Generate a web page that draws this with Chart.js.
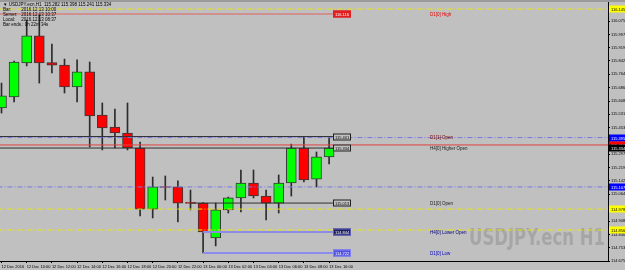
<!DOCTYPE html>
<html>
<head>
<meta charset="utf-8">
<script src="https://cdn.jsdelivr.net/npm/chart.js@4.4.0/dist/chart.umd.min.js"></script>
<style>
html, body { margin: 0; padding: 0; background: #c0c0c0; overflow: hidden; }
canvas { display: block; }
</style>
</head>
<body>
<canvas id="mycanvas" width="625" height="270"></canvas>
<script>
// hourly candles, 12 Dec 08:00 .. 13 Dec 10:00
var opens  = [115.568, 115.632, 115.831, 115.988, 115.833, 115.818, 115.690, 115.778, 115.527, 115.457,
              115.422, 115.334, 114.978, 115.107, 115.107, 115.013, 115.013, 114.809, 114.973, 115.043,
              115.130, 115.054, 115.013, 115.130, 115.334, 115.153, 115.282];
var highs  = [115.713, 115.842, 116.081, 116.116, 115.941, 115.853, 115.848, 115.836, 115.597, 115.562,
              115.597, 115.369, 115.165, 115.171, 115.142, 115.089, 115.016, 115.013, 115.048, 115.206,
              115.206, 115.089, 115.177, 115.357, 115.398, 115.311, 115.398];
var lows   = [115.538, 115.603, 115.813, 115.713, 115.772, 115.655, 115.603, 115.340, 115.323, 115.334,
              115.323, 114.938, 114.926, 115.031, 114.903, 114.973, 114.722, 114.763, 114.955, 114.961,
              115.043, 114.914, 114.955, 115.054, 115.136, 115.107, 115.241];
var closes = [115.638, 115.836, 115.988, 115.830, 115.818, 115.690, 115.778, 115.521, 115.451, 115.422,
              115.334, 114.978, 115.107, 115.104, 115.013, 115.011, 114.844, 114.973, 115.043, 115.130,
              115.054, 115.013, 115.130, 115.334, 115.148, 115.282, 115.334];

var xTickIdx    = [0, 2, 4, 6, 8, 10, 12, 14, 16, 18, 20, 22, 24, 26];
var xTickLabels = ['12 Dec 2016', '12 Dec 10:00', '12 Dec 12:00', '12 Dec 14:00', '12 Dec 16:00',
                   '12 Dec 18:00', '12 Dec 20:00', '12 Dec 22:00', '13 Dec 00:00', '13 Dec 02:00',
                   '13 Dec 04:00', '13 Dec 06:00', '13 Dec 08:00', '13 Dec 10:00'];
var yTickLabels = ['116.075', '115.997', '115.919', '115.842', '115.764', '115.686', '115.608',
                   '115.531', '115.453', '115.375', '115.297', '115.219', '115.142', '115.064',
                   '114.986', '114.908', '114.830', '114.753', '114.675'];

// horizontal levels
var levelPrices = [116.145, 116.116, 115.401, 115.395, 115.352, 115.334, 115.107, 115.013, 114.978, 114.856, 114.844, 114.722];
var levelTexts  = ['', 'D1[0] High', 'D1[1] Open', '', '', 'H4[0] Higher Open', '', 'D1[0] Open', '', '', 'H4[0] Lower Open', 'D1[0] Low'];
var levelFrom   = [null, null, null, null, null, null, null, 15, null, null, 16, 16];

var legendLines = ['\u25BC USDJPY.ecn,H1  115.282 115.398 115.241 115.334',
                   'Bar:        2016.12.13 10:00',
                   'Server:   2016.12.13 10:37',
                   'Local:     2016.12.13 08:37',
                   'Bar ends.: 0h 22m 34s'];

// style for each level: line, box at end of line, text, marker on price axis
var levelStyle = [
  {line: '#e8e800', dash: [5, 2, 1, 2], w: 1, axis: ['#ffff00', '#000']},
  {line: '#e06060', w: 1, box: ['#e02020', '#e02020', '#fff'], text: '#e00000'},
  {line: '#303030', w: 1, box: ['#c0c0c0', '#202020', '#000'], text: '#700000'},
  {line: '#7878e8', dash: [5, 2, 1, 2], w: 1, axis: ['#0000ff', '#fff']},
  {line: '#e04040', w: 1, axis: ['#ff0000', '#fff']},
  {line: '#303030', w: 1, box: ['#c0c0c0', '#202020', '#000'], text: '#202020', axis: ['#000', '#fff']},
  {line: '#7878e8', dash: [5, 2, 1, 2], w: 1, axis: ['#0000ff', '#fff']},
  {line: '#303030', w: 1, box: ['#c0c0c0', '#202020', '#000'], text: '#202020'},
  {line: '#e8e800', dash: [5, 2, 1, 2], w: 1, axis: ['#ffff00', '#000']},
  {line: '#e8e800', dash: [5, 2, 1, 2], w: 1, axis: ['#ffff00', '#000']},
  {line: '#8c8ce6', w: 2, box: ['#202060', '#6060c0', '#fff'], text: '#000080'},
  {line: '#8c8cf0', w: 2, box: ['#5050d8', '#8080ff', '#fff'], text: '#0000c0'}
];

var lineEnd = 26.3;
var textAt = 34;
var xMin = -0.119, xMax = 48.135;

var bodyColors = opens.map(function(o, i) { return closes[i] >= o ? '#00ff00' : '#ff0000'; });

var datasets = [];
levelPrices.forEach(function(p, i) {
  var st = levelStyle[i];
  var from = levelFrom[i] === null ? xMin - 1 : levelFrom[i];
  var to = levelTexts[i] ? lineEnd : xMax + 1;
  datasets.push({
    type: 'line',
    data: [{x: from, y: p}, {x: to, y: p}],
    borderColor: st.line,
    borderWidth: st.w,
    borderDash: st.dash || [],
    pointRadius: 0,
    order: 0
  });
});
datasets.push({
  type: 'bar',
  data: opens.map(function(o, i) { return {x: i, y: [o, closes[i]]}; }),
  backgroundColor: bodyColors,
  borderColor: '#383838',
  borderWidth: 1,
  borderSkipped: false,
  barThickness: 10,
  minBarLength: 1,
  grouped: false,
  order: 1
});
datasets.push({
  type: 'bar',
  data: lows.map(function(l, i) { return {x: i, y: [l, highs[i]]}; }),
  backgroundColor: '#2c2c2c',
  borderWidth: 0,
  barThickness: 1,
  grouped: false,
  order: 2
});

var mtPlugin = {
  id: 'mt',
  beforeDraw: function(chart) {
    var c = chart.ctx;
    c.save();
    c.fillStyle = '#c0c0c0';
    c.fillRect(0, 0, chart.width, chart.height);
    c.fillStyle = '#9a9a9a';
    c.fillRect(0, 0, chart.width, 2);
    c.font = 'bold 23px "Liberation Sans Narrow", "DejaVu Sans Condensed", sans-serif';
    c.fillStyle = '#a6a6a6';
    c.textAlign = 'right';
    c.textBaseline = 'alphabetic';
    c.fillText('USDJPY.ecn H1', 605, 245, 136);
    c.restore();
  },
  afterDatasetsDraw: function(chart) {
    var c = chart.ctx;
    var xs = chart.scales.x, ys = chart.scales.y;
    c.save();
    c.font = '4px "Liberation Sans", sans-serif';
    c.textBaseline = 'middle';
    levelPrices.forEach(function(p, i) {
      var st = levelStyle[i];
      var y = Math.round(ys.getPixelForValue(p));
      if (st.box) {
        var bx = Math.round(xs.getPixelForValue(lineEnd));
        c.fillStyle = st.box[0];
        c.fillRect(bx, y - 3.5, 18, 7);
        c.strokeStyle = st.box[1];
        c.lineWidth = 1;
        c.strokeRect(bx + 0.5, y - 3, 17, 6);
        c.fillStyle = st.box[2];
        c.textAlign = 'left';
        c.fillText(p.toFixed(3), bx + 2, y + 0.5);
      }
      if (levelTexts[i]) {
        c.fillStyle = st.text;
        c.textAlign = 'left';
        c.font = '4.5px "Liberation Sans", sans-serif';
        c.fillText(levelTexts[i], xs.getPixelForValue(textAt), y + 0.5);
        c.font = '4px "Liberation Sans", sans-serif';
      }
      if (st.axis) {
        var ax = chart.chartArea.right + 1;
        c.fillStyle = st.axis[0];
        c.fillRect(ax, y - 3.5, chart.width - ax, 7);
        c.fillStyle = st.axis[1];
        c.textAlign = 'left';
        c.fillText(p.toFixed(3), ax + 2, y + 0.5);
      }
    });
    c.restore();
  },
  afterDraw: function(chart) {
    var c = chart.ctx;
    c.save();
    c.font = '4.5px "Liberation Sans", sans-serif';
    c.fillStyle = '#000';
    c.textAlign = 'left';
    c.textBaseline = 'middle';
    legendLines.forEach(function(t, i) {
      c.fillText(t, 3, 4.5 + i * 5);
    });
    c.restore();
  }
};

var chart = new Chart(document.getElementById('mycanvas'), {
  type: 'bar',
  data: {datasets: datasets},
  options: {
    responsive: false,
    animation: false,
    devicePixelRatio: 1,
    events: [],
    layout: {padding: {top: 2, left: 0, right: 0, bottom: 0}},
    plugins: {legend: {display: false}, tooltip: {enabled: false}},
    scales: {
      x: {
        type: 'linear',
        min: xMin,
        max: xMax,
        offset: false,
        afterBuildTicks: function(s) { s.ticks = xTickIdx.map(function(v) { return {value: v}; }); },
        afterFit: function(s) { s.height = 9; s.paddingLeft = 0; s.paddingRight = 0; },
        grid: {drawOnChartArea: false, drawTicks: true, tickLength: 2, color: '#000', offset: false},
        border: {display: true, color: '#000'},
        ticks: {
          font: {size: 4, family: 'Liberation Sans'},
          color: '#000',
          padding: 1,
          align: 'start',
          maxRotation: 0,
          autoSkip: false,
          callback: function(v, i) { return xTickLabels[i]; }
        }
      },
      y: {
        type: 'linear',
        position: 'right',
        min: 114.675,
        max: 116.186,
        beginAtZero: false,
        afterBuildTicks: function(s) { s.ticks = yTickLabels.map(function(t) { return {value: parseFloat(t)}; }); },
        afterFit: function(s) { s.width = 17; s.paddingTop = 0; s.paddingBottom = 0; },
        grid: {drawOnChartArea: false, drawTicks: true, tickLength: 2, color: '#000'},
        border: {display: true, color: '#000'},
        ticks: {
          font: {size: 4, family: 'Liberation Sans'},
          color: '#000',
          padding: 1,
          autoSkip: false,
          callback: function(v, i) { return yTickLabels[i]; }
        }
      }
    }
  },
  plugins: [mtPlugin]
});
</script>
</body>
</html>
